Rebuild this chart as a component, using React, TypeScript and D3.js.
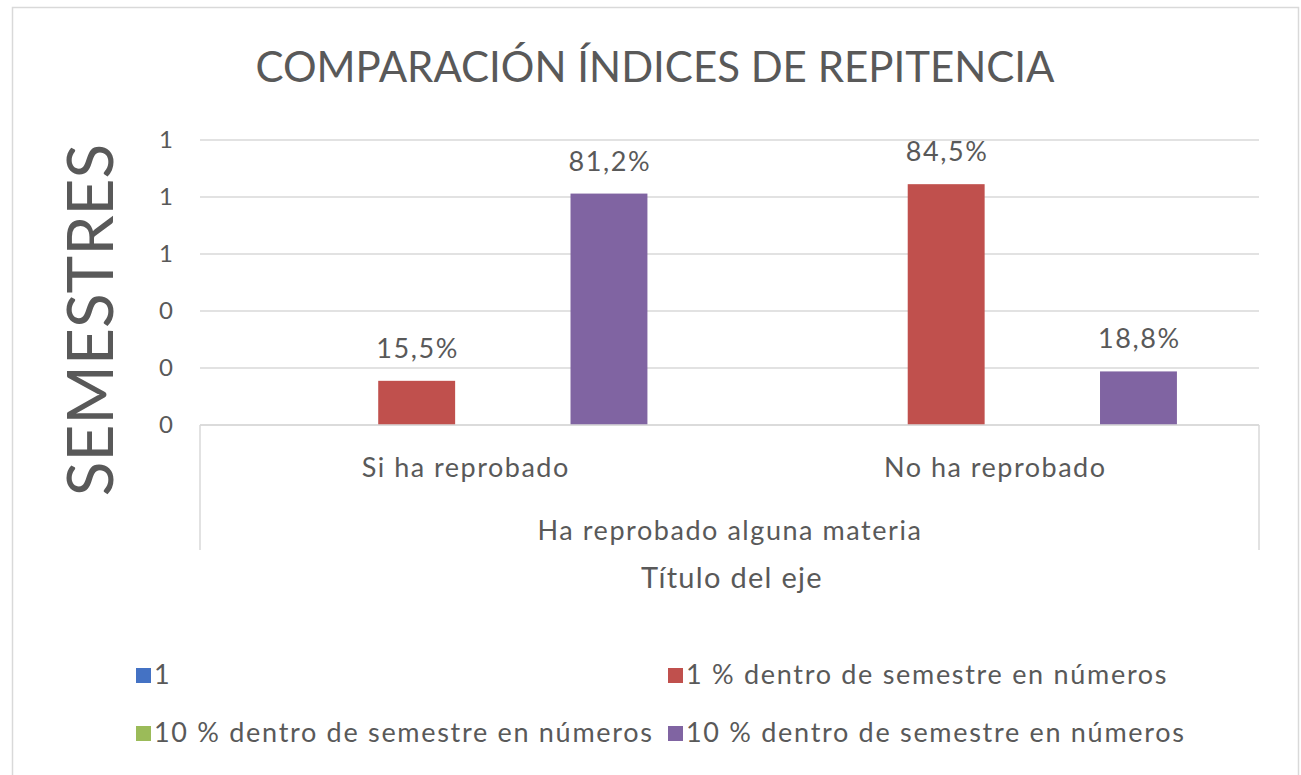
import React, { useEffect, useRef } from "react";
import * as d3 from "d3";

// categories and series
const categories = ["Si ha reprobado", "No ha reprobado"];
const seriesNames = [
  "1",
  "1 % dentro de semestre en números",
  "10 % dentro de semestre en números",
  "10 % dentro de semestre en números",
];
const seriesColors = ["#4472C4", "#C0504D", "#9BBB59", "#8064A2"];
// one array per series, values in fraction (0..1)
const serie1 = [0, 0];
const serie1Pct = [0.155, 0.845];
const serie10Green = [0, 0];
const serie10Purple = [0.812, 0.188];
const yTicks = [0, 0.2, 0.4, 0.6, 0.8, 1];

const title = "COMPARACIÓN ÍNDICES DE REPITENCIA";
const yTitle = "SEMESTRES";
const groupTitle = "Ha reprobado alguna materia";
const xTitle = "Título del eje";

const W = 1301;
const H = 775;
const FONT = "Lato, 'Open Sans', sans-serif";
const TXT = "#595959";

const App = () => {
  const svgRef = useRef<SVGSVGElement>(null);

  useEffect(() => {
    const svg = d3.select(svgRef.current);
    svg.selectAll("*").remove();

    const margin = { top: 140, left: 200, right: W - 1259, bottom: H - 425 };
    const allSeries = [serie1, serie1Pct, serie10Green, serie10Purple];

    // chart area border
    svg.append("rect")
      .attr("x", 12.5).attr("y", 7.5)
      .attr("width", 1286).attr("height", H + 20)
      .attr("fill", "#fff").attr("stroke", "#d9d9d9").attr("stroke-width", 1.5);

    const x0 = d3.scaleBand()
      .domain(categories)
      .range([margin.left, W - margin.right])
      .paddingInner(0.31)
      .paddingOuter(0.155);
    const x1 = d3.scaleBand()
      .domain(seriesNames.map((_, i) => String(i)))
      .range([0, x0.bandwidth()])
      .paddingInner(0.2);
    const y = d3.scaleLinear()
      .domain([0, 1])
      .range([H - margin.bottom, margin.top]);

    // gridlines
    svg.append("g")
      .selectAll("line")
      .data(yTicks)
      .join("line")
      .attr("x1", margin.left).attr("x2", W - margin.right)
      .attr("y1", d => y(d)).attr("y2", d => y(d))
      .attr("stroke", "#d9d9d9").attr("stroke-width", 1.5);

    // y axis labels (no decimals, so 0.2 -> 0 and 0.6 -> 1)
    const fmt = d3.format(".0f");
    svg.append("g")
      .selectAll("text")
      .data(yTicks)
      .join("text")
      .attr("x", 173).attr("y", d => y(d))
      .attr("dy", "0.35em")
      .attr("text-anchor", "end")
      .attr("font-family", FONT).attr("font-size", 24).attr("fill", TXT)
      .text(d => fmt(d));

    // y axis title
    svg.append("text")
      .attr("transform", `translate(113,${(152 + 488) / 2}) rotate(-90)`)
      .attr("text-anchor", "middle")
      .attr("font-family", FONT).attr("font-size", 64).attr("fill", TXT)
      .text(yTitle);

    // bars
    categories.forEach((cat, ci) => {
      const g = svg.append("g").attr("transform", `translate(${x0(cat)},0)`);
      allSeries.forEach((s, si) => {
        const v = s[ci];
        if (v <= 0) return;
        const bx = x1(String(si))!;
        g.append("rect")
          .attr("x", bx).attr("y", y(v))
          .attr("width", x1.bandwidth()).attr("height", y(0) - y(v))
          .attr("fill", seriesColors[si]);
        g.append("text")
          .attr("x", bx + x1.bandwidth() / 2 + 1).attr("y", y(v) - 23)
          .attr("text-anchor", "middle")
          .attr("font-family", FONT).attr("font-size", 27).attr("fill", TXT)
          .attr("letter-spacing", 1.6)
          .text(d3.format(".1f")(v * 100).replace(".", ",") + "%");
      });
    });

    // multi-level category axis
    const axisY = y(0);
    const ax = svg.append("g").attr("stroke", "#d9d9d9").attr("stroke-width", 1.5);
    ax.append("line")
      .attr("x1", margin.left).attr("x2", W - margin.right)
      .attr("y1", axisY).attr("y2", axisY);
    [margin.left, W - margin.right].forEach(xx => {
      ax.append("line")
        .attr("x1", xx).attr("x2", xx)
        .attr("y1", axisY).attr("y2", 550);
    });

    svg.append("g")
      .selectAll("text")
      .data(categories)
      .join("text")
      .attr("x", d => x0(d)! + x0.bandwidth() / 2 + 1)
      .attr("y", 477)
      .attr("text-anchor", "middle")
      .attr("font-family", FONT).attr("font-size", 27).attr("fill", TXT)
      .attr("letter-spacing", 1.5)
      .text(d => d);

    svg.append("text")
      .attr("x", 730).attr("y", 540)
      .attr("text-anchor", "middle")
      .attr("font-family", FONT).attr("font-size", 27).attr("fill", TXT)
      .attr("letter-spacing", 1.55)
      .text(groupTitle);

    svg.append("text")
      .attr("x", 732).attr("y", 588)
      .attr("text-anchor", "middle")
      .attr("font-family", FONT).attr("font-size", 29).attr("fill", TXT)
      .attr("letter-spacing", 1.3)
      .text(xTitle);

    // chart title
    svg.append("text")
      .attr("x", 655).attr("y", 82)
      .attr("text-anchor", "middle")
      .attr("font-family", FONT).attr("font-size", 42).attr("fill", TXT)
      .text(title);

    // legend, two columns
    const legend = svg.append("g");
    seriesNames.forEach((name, i) => {
      const col = i % 2;
      const row = Math.floor(i / 2);
      const lx = col === 0 ? 136 : 668;
      const ly = 675 + row * 58;
      legend.append("rect")
        .attr("x", lx).attr("y", ly - 7)
        .attr("width", 15).attr("height", 15)
        .attr("fill", seriesColors[i]);
      legend.append("text")
        .attr("x", lx + 18).attr("y", ly)
        .attr("dy", "0.35em")
        .attr("font-family", FONT).attr("font-size", 27).attr("fill", TXT)
        .attr("letter-spacing", 1.7)
        .text(name);
    });
  }, []);

  return (
    <svg
      ref={svgRef}
      width={W}
      height={H}
      style={{ position: "absolute", left: 0, top: 0, background: "#fff" }}
    />
  );
};

export default App;
